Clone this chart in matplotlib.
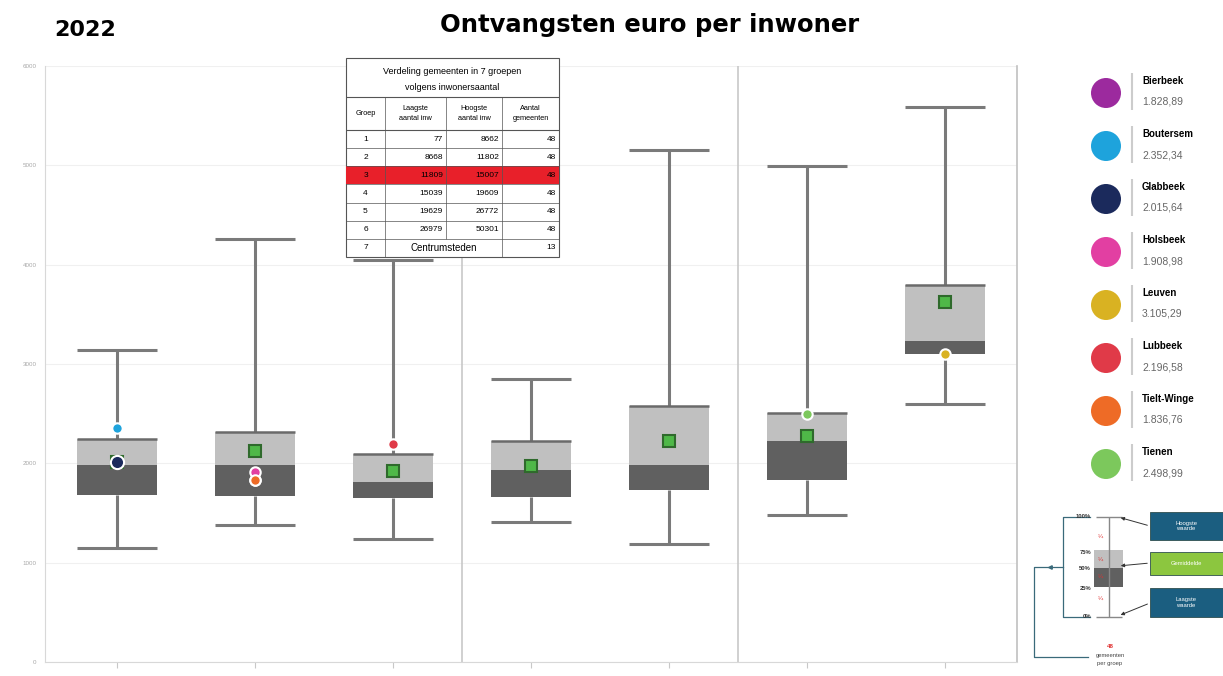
import matplotlib
matplotlib.use('Agg')
import matplotlib.pyplot as plt
from matplotlib.patches import Rectangle, Circle

# Box statistics per group (euro per inwoner)
groups = [1, 2, 3, 4, 5, 6, 7]
whisker_min = [1150, 1380, 1240, 1410, 1190, 1480, 2600]
q1 = [1680, 1670, 1650, 1660, 1730, 1830, 3100]
median = [1985, 1985, 1810, 1935, 1985, 2225, 3235]
q3 = [2245, 2315, 2095, 2225, 2580, 2510, 3795]
whisker_max = [3140, 4260, 4050, 2850, 5155, 4995, 5590]
mean = [2015, 2125, 1925, 1975, 2225, 2275, 3625]

# Municipalities highlighted
names = ['Bierbeek', 'Boutersem', 'Glabbeek', 'Holsbeek', 'Leuven', 'Lubbeek', 'Tielt-Winge', 'Tienen']
values = [1828.89, 2352.34, 2015.64, 1908.98, 3105.29, 2196.58, 1836.76, 2498.99]
name_group = [2, 1, 1, 2, 7, 3, 2, 6]
name_colors = ['#9c2a9e', '#1ea3dc', '#1b2a5c', '#e23fa2', '#d9b222', '#e03a48', '#ee6b26', '#7cc85c']

# Inset table: groups by population
table_groups = ['1', '2', '3', '4', '5', '6', '7']
table_low = ['77', '8668', '11809', '15039', '19629', '26979']
table_high = ['8662', '11802', '15007', '19609', '26772', '50301']
table_count = ['48', '48', '48', '48', '48', '48', '13']
highlight_row = 2

W, H = 1223, 676
fig = plt.figure(figsize=(W / 100, H / 100), dpi=100)
plt.rcParams['font.family'] = ['Liberation Sans', 'DejaVu Sans']

# Main chart
ax = fig.add_axes([45 / W, 1 - 662 / H, (1017 - 45) / W, (662 - 66) / H])
ax.set_xlim(0.48, 7.52)
ax.set_ylim(0, 6000)
bw = 0.58

ax.vlines(groups, q3, whisker_max, color='#7a7a7a', lw=2.2, zorder=2)
ax.vlines(groups, whisker_min, q1, color='#7a7a7a', lw=2.2, zorder=2)
ax.hlines(whisker_max, [g - bw / 2 for g in groups], [g + bw / 2 for g in groups], color='#7a7a7a', lw=2.2, zorder=2)
ax.hlines(whisker_min, [g - bw / 2 for g in groups], [g + bw / 2 for g in groups], color='#7a7a7a', lw=2.2, zorder=2)
ax.bar(groups, [m - a for m, a in zip(median, q1)], bottom=q1, width=bw, color='#606060', zorder=3)
ax.bar(groups, [b - m for b, m in zip(q3, median)], bottom=median, width=bw, color='#c0c0c0', zorder=3)
ax.hlines(q3, [g - bw / 2 for g in groups], [g + bw / 2 for g in groups], color='#6a6a6a', lw=1.8, zorder=4)

ax.plot(groups, mean, 's', ms=8, mfc='#4fb848', mec='#2f6a2c', mew=1.5, ls='none', zorder=5)
for n, g, v, c in zip(names, name_group, values, name_colors):
    ax.plot(g, v, 'o', ms=9.5 if n == 'Glabbeek' else 7.5, mfc=c, mec='white', mew=1.5, zorder=6)

for x in [3.5, 5.5]:
    ax.axvline(x, color='#c8c8c8', lw=1.2, zorder=1)

ax.set_yticks(range(0, 7000, 1000))
ax.tick_params(axis='y', length=0, labelsize=4.5, labelcolor='#a8a8a8', pad=6)
ax.set_xticks(groups)
ax.set_xticklabels([''] * 7)
ax.tick_params(axis='x', length=4, color='#c8c8c8')
ax.grid(axis='y', color='#f0f0f0', lw=0.8, zorder=0)
ax.set_axisbelow(True)
for s in ['left', 'bottom']:
    ax.spines[s].set_color('#d8d8d8')
ax.spines['right'].set_color('#c0c0c0')
ax.spines['right'].set_linewidth(1.2)
ax.spines['top'].set_visible(False)

fig.text(85 / W, 1 - 30 / H, '2022', fontsize=16, fontweight='bold', ha='center', va='center',
         family='DejaVu Sans')
fig.text(650 / W, 1 - 25 / H, 'Ontvangsten euro per inwoner', fontsize=17.5, fontweight='bold',
         ha='center', va='center', family='DejaVu Sans')

# Overlay in pixel coordinates for table, legend and explanation
ov = fig.add_axes([0, 0, 1, 1])
ov.set_xlim(0, W)
ov.set_ylim(H, 0)
ov.axis('off')
ov.patch.set_alpha(0)

# --- table ---
cols = [346, 385, 446, 502, 559]
top, t_title, t_head = 58, 97, 130
rh = (257 - t_head) / 7
lc = '#555555'
ov.add_patch(Rectangle((cols[0], top), cols[-1] - cols[0], 257 - top, fc='white', ec=lc, lw=0.8, zorder=10))
ov.add_patch(Rectangle((cols[0], t_head + highlight_row * rh), cols[-1] - cols[0], rh, fc='#e8202a', ec='none', zorder=10.5))
fs = 6
ov.text((cols[0] + cols[-1]) / 2, 71, 'Verdeling gemeenten in 7 groepen', fontsize=6.5, ha='center', va='center', zorder=12)
ov.text((cols[0] + cols[-1]) / 2, 88, 'volgens inwonersaantal', fontsize=6.5, ha='center', va='center', zorder=12)
ov.hlines([t_title, t_head], cols[0], cols[-1], color=lc, lw=0.8, zorder=11)
ov.hlines([t_head + i * rh for i in range(1, 7)], cols[0], cols[-1], color=lc, lw=0.5, zorder=11)
ov.vlines([cols[1], cols[3]], t_title, 257, color=lc, lw=0.5, zorder=11)
ov.vlines(cols[2], t_title, t_head + 6 * rh, color=lc, lw=0.5, zorder=11)
heads = ['Groep', 'Laagste\naantal inw', 'Hoogste\naantal inw', 'Aantal\ngemeenten']
for i, h in enumerate(heads):
    ov.text((cols[i] + cols[i + 1]) / 2, (t_title + t_head) / 2, h, fontsize=5.3, ha='center', va='center',
            linespacing=1.4, zorder=12)
for i, g in enumerate(table_groups):
    yc = t_head + (i + 0.5) * rh
    ov.text((cols[0] + cols[1]) / 2, yc, g, fontsize=fs, ha='center', va='center', zorder=12)
    if i < len(table_low):
        ov.text(cols[2] - 3, yc, table_low[i], fontsize=fs, ha='right', va='center', zorder=12)
        ov.text(cols[3] - 3, yc, table_high[i], fontsize=fs, ha='right', va='center', zorder=12)
    else:
        ov.text((cols[1] + cols[3]) / 2, yc, 'Centrumsteden', fontsize=fs + 1, ha='center', va='center', zorder=12)
    ov.text(cols[4] - 3, yc, table_count[i], fontsize=fs, ha='right', va='center', zorder=12)

# --- legend ---
for i, (n, v, c) in enumerate(zip(names, values, name_colors)):
    yc = 93 + i * 53
    ov.add_patch(Circle((1106, yc), 15, fc=c, ec='none', zorder=10))
    ov.vlines(1132, yc - 20, yc + 17, color='#cccccc', lw=1.5, zorder=10)
    ov.text(1142, yc - 12, n, fontsize=7, fontweight='bold', ha='left', va='center', zorder=10)
    label = f'{v:,.2f}'.replace(',', '#').replace('.', ',').replace('#', '.')
    ov.text(1142, yc + 9, label, fontsize=7.5, color='#666666', ha='left', va='center', zorder=10)

# --- explanation diagram ---
dc = '#3a6a7a'
ov.plot([1090, 1063, 1063, 1090], [517, 517, 617, 617], color=dc, lw=0.9)
ov.plot([1063, 1034, 1034, 1088], [567, 567, 657, 657], color=dc, lw=0.9)
ov.plot(1050, 567, marker='<', ms=2.5, color=dc)
ov.vlines(1109, 517, 617, color='#888888', lw=1)
ov.hlines([517, 617], 1096, 1122, color='#888888', lw=1)
ov.add_patch(Rectangle((1094, 550), 29, 18, fc='#c0c0c0', ec='none'))
ov.add_patch(Rectangle((1094, 568), 29, 19, fc='#606060', ec='none'))
for lab, yy in [('100%', 517), ('75%', 552), ('50%', 569), ('25%', 588), ('0%', 617)]:
    ov.text(1091, yy, lab, fontsize=4.2, fontweight='bold', ha='right', va='center', color='#333333')
for yy in [537, 560, 577, 599]:
    ov.text(1100, yy, '¼', fontsize=4.5, color='#e03030', ha='center', va='center')
boxes = [('Hoogste\nwaarde', 512, 540, '#1b5e80', 526, 517),
         ('Gemiddelde', 552, 575, '#8cc63f', 563, 566),
         ('Laagste\nwaarde', 588, 617, '#1b5e80', 603, 616)]
for txt, y0, y1, fc, ya, yt in boxes:
    ov.add_patch(Rectangle((1150, y0), 73, y1 - y0, fc=fc, ec='#2f4f4f', lw=0.6))
    ov.text(1186, (y0 + y1) / 2, txt, fontsize=4.2, color='white', ha='center', va='center', linespacing=1.2)
    ov.annotate('', xy=(1118, yt), xytext=(1150, ya),
                arrowprops=dict(arrowstyle='-|>', color='#333333', lw=0.7, mutation_scale=5))
ov.text(1110, 646, '48', fontsize=4.5, color='#e03030', ha='center', va='center', fontweight='bold')
ov.text(1110, 655, 'gemeenten', fontsize=4.2, color='#444444', ha='center', va='center')
ov.text(1110, 663, 'per groep', fontsize=4.2, color='#444444', ha='center', va='center')

fig.savefig('out.png', dpi=100)
